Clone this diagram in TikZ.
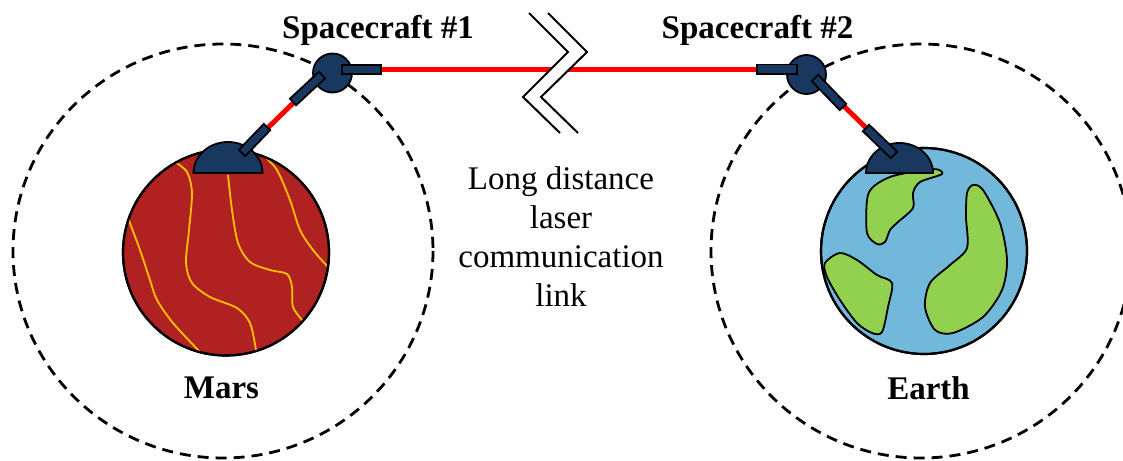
\documentclass[tikz,border=0pt]{standalone}
\usepackage{fontspec}
\setmainfont{Liberation Serif}
\usetikzlibrary{calc}

\definecolor{marsred}{RGB}{176,34,34}
\definecolor{earthblue}{RGB}{113,184,218}
\definecolor{landgreen}{RGB}{146,208,80}
\definecolor{navy}{RGB}{25,56,96}
\definecolor{ridgeyellow}{RGB}{255,192,0}
\definecolor{laserred}{RGB}{255,0,0}

\tikzset{
  orbit/.style={draw=black, line width=2.8pt, dash pattern=on 11pt off 7pt},
  planet/.style={circle, draw=black, line width=2.2pt, minimum size=206pt, inner sep=0pt},
  craft/.style={circle, draw=black, fill=navy, line width=1.8pt, minimum size=39pt, inner sep=0pt},
  part/.style={draw=black, fill=navy, line width=1.8pt, line join=miter},
  laser/.style={draw=laserred, line width=5pt},
  ridge/.style={draw=ridgeyellow, line width=1.8pt},
  land/.style={draw=black, fill=landgreen, line width=1.8pt},
  breakline/.style={draw=black, line width=2pt},
  lbl/.style={font=\bfseries\fontsize{33}{39}\selectfont, inner sep=0pt},
  body/.style={font=\fontsize{33}{39}\selectfont, inner sep=0pt, align=center},
}

% rectangular telescope tube of half width 4.5 between two points
\newcommand\armbar[2]{%
  \filldraw[part] ($(#1)!4.5pt!90:(#2)$) -- ($(#2)!4.5pt!-90:(#1)$)
    -- ($(#2)!4.5pt!90:(#1)$) -- ($(#1)!4.5pt!-90:(#2)$) -- cycle;}

\begin{document}
\begin{tikzpicture}[x=1pt, y=-1pt]
\useasboundingbox (0,0) rectangle (1123,460);

% orbits
\draw[orbit] (223,251) circle [x radius=210, y radius=207];
\draw[orbit] (921,251) circle [x radius=210, y radius=207];

% Mars with surface ridges
\node[planet, fill=marsred] (mars) at (226,252.5) {};
\begin{scope}
  \clip (226,252.5) circle [radius=102];
  \draw[ridge] plot[smooth] coordinates {(128,218) (140,250) (150,280) (157,300) (173,323) (198,350) (203,356)};
  \draw[ridge] plot[smooth] coordinates {(175,162) (187,172) (192,193) (189,230) (186,263) (192,283) (210,297) (237,308) (250,323) (256,350) (256,356)};
  \draw[ridge] plot[smooth] coordinates {(228,175) (232,210) (238,243) (250,262) (270,270) (287,274) (292,287) (293,307) (303,321)};
  \draw[ridge] plot[smooth] coordinates {(264,156) (277,170) (290,200) (300,230) (313,250) (328,267) (332,271)};
\end{scope}
\draw[black, line width=2.2pt] (mars.center) circle [radius=103];

% Earth with continents
\node[planet, fill=earthblue] (earth) at (924,251) {};
\begin{scope}
  \clip (924,251) circle [radius=102];
  \draw[land] plot[smooth cycle] coordinates {(893,176) (933,169) (942,174) (920,182) (913,193) (913,208) (898,222) (890,230) (885,242) (877,244) (867,233) (867,200) (873,187)};
  \draw[land] plot[smooth cycle] coordinates {(825,263) (840,253) (857,260) (877,275) (892,283) (888,307) (882,332) (872,333) (857,323) (840,300) (827,277)};
  \draw[land] plot[smooth cycle] coordinates {(973,185) (983,190) (1000,223) (1007,260) (1002,290) (983,317) (953,333) (935,330) (925,307) (930,283) (950,265) (967,248) (966,217) (967,193)};
\end{scope}
\draw[black, line width=2.2pt] (earth.center) circle [radius=103];

% ground stations
\filldraw[part] (262.5,173) arc[start angle=0, end angle=-180, x radius=34.5, y radius=31] -- cycle;
\filldraw[part] (933,173) arc[start angle=0, end angle=-180, x radius=33.5, y radius=30] -- cycle;

% beam and tube anchor points
\coordinate (m1) at (242,153);
\coordinate (m2) at (267,127);
\coordinate (m3) at (293,102);
\coordinate (m4) at (322,75);
\coordinate (e1) at (815,78);
\coordinate (e2) at (843,107);
\coordinate (e3) at (866,128);
\coordinate (e4) at (894,155);
\coordinate (b1) at (381,69.5);
\coordinate (b2) at (757,69.5);

% laser beams
\draw[laser] (m1) -- (m4);
\draw[laser] (e1) -- (e4);
\draw[laser] (b1) -- (b2);

% spacecraft
\node[craft] (sc1) at (332.5,73) {};
\node[craft] (sc2) at (806.5,74.5) {};

% telescopes
\filldraw[part] (342,65) rectangle (381,74);
\filldraw[part] (757,64.5) rectangle (797,74);
\armbar{m1}{m2}
\armbar{m3}{m4}
\armbar{e1}{e2}
\armbar{e3}{e4}

% distance break
\fill[white] (529,13) -- (568,52) -- (523,97) -- (560,133) -- (578,133) -- (541,97) -- (587,52) -- (548,13) -- cycle;
\draw[breakline] (529,13) -- (568,52) -- (523,97) -- (560,133);
\draw[breakline] (548,13) -- (587,52) -- (541,97) -- (578,133);

% labels
\node[lbl, anchor=base] (t1) at (378,39) {Spacecraft \#1};
\node[lbl, anchor=base] (t2) at (757.5,39) {Spacecraft \#2};
\node[lbl, anchor=base] (tm) at (221.5,398) {Mars};
\node[lbl, anchor=base] (te) at (928.5,399) {Earth};
\node[body, anchor=north] (link) at (561,166) {Long distance\\laser\\communication\\link};
\end{tikzpicture}
\end{document}
